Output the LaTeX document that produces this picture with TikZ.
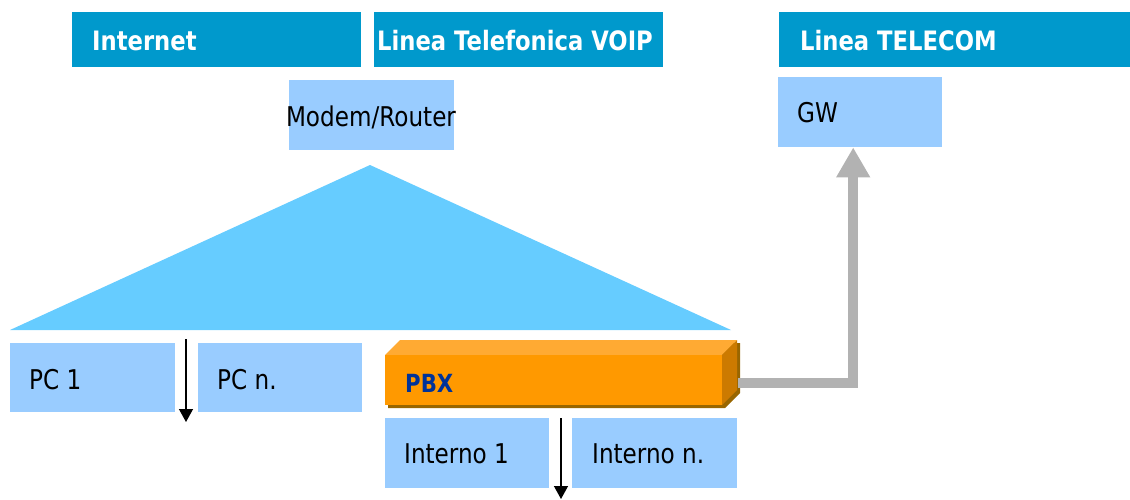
\documentclass[tikz,border=0pt]{standalone}
\usepackage{fontspec}
\setmainfont{DejaVu Sans}[FakeStretch=0.85]
\usetikzlibrary{arrows.meta}
\definecolor{hdr}{HTML}{0099CC}
\definecolor{lbox}{HTML}{99CCFF}
\definecolor{tri}{HTML}{66CCFF}
\definecolor{pbxf}{HTML}{FF9900}
\definecolor{pbxtop}{HTML}{FFAA33}
\definecolor{pbxr}{HTML}{CC7A00}
\definecolor{pbxs}{HTML}{996600}
\definecolor{conn}{HTML}{B2B2B2}
\definecolor{pbxtext}{HTML}{003399}
\begin{document}
\begin{tikzpicture}[x=1pt,y=-1pt,
  hbox/.style={fill=hdr, inner sep=0pt, anchor=north west, minimum height=55pt},
  lightbox/.style={fill=lbox, inner sep=0pt, anchor=north west},
  htext/.style={text=white, font=\bfseries\fontsize{26.7}{30}\selectfont, anchor=base west, inner sep=0pt},
  ntext/.style={text=black, font=\fontsize{27.2}{30}\selectfont, anchor=base west, inner sep=0pt},
  thin arrow/.style={line width=1.3pt, -{Triangle[length=13pt,width=14pt]}},
  grey arrow/.style={draw=conn, line width=10pt, -{Triangle[length=30pt,width=32pt]}}
]
\useasboundingbox (0,0) rectangle (1130,499);

% header bars
\node[hbox, minimum width=289pt] (inet) at (72,12) {};
\node[hbox, minimum width=289pt] (voip) at (374,12) {};
\node[hbox, minimum width=351pt] (tel) at (779,12) {};
\node[htext] (inettxt) at (92,50) {Internet};
\node[htext] (voiptxt) at (377,50) {Linea Telefonica VOIP};
\node[htext] (teltxt) at (800,50) {Linea TELECOM};

% modem / gw
\node[lightbox, minimum width=165pt, minimum height=70pt] (modem) at (289,80) {};
\node[ntext, anchor=base] (modemtxt) at (371,126) {Modem/Router};
\node[lightbox, minimum width=164pt, minimum height=70pt] (gw) at (778,77) {};
\node[ntext] (gwtxt) at (797,122) {GW};

% triangle
\fill[tri] (370,165) -- (731,330) -- (10,330) -- cycle;

% PCs
\node[lightbox, minimum width=165pt, minimum height=69pt] (pc1) at (10,343) {};
\node[lightbox, minimum width=164pt, minimum height=69pt] (pcn) at (198,343) {};
\node[ntext] (pc1txt) at (29,389) {PC 1};
\node[ntext] (pcntxt) at (217,389) {PC n.};
\coordinate (pcs) at (186,339);
\coordinate (pce) at (186,422);
\draw[thin arrow] (pcs) -- (pce);

% PBX
\fill[pbxs] (388,358) -- (403,343) -- (740,343) -- (740,393) -- (725,408) -- (388,408) -- cycle;
\fill[pbxtop] (385,355) -- (400,340) -- (737,340) -- (722,355) -- cycle;
\fill[pbxr] (722,355) -- (737,340) -- (737,390) -- (722,405) -- cycle;
\node[fill=pbxf, inner sep=0pt, anchor=north west, minimum width=337pt, minimum height=50pt] (pbx) at (385,355) {};
\node[text=pbxtext, font=\bfseries\fontsize{25}{28}\selectfont, anchor=base west, inner sep=0pt] (pbxlabel) at (405,392) {PBX};

% connector PBX -> GW
\coordinate (pbxout) at (738,383);
\draw[grey arrow] (pbxout) -| ([xshift=-7pt]gw.south);

% interni
\node[lightbox, minimum width=164pt, minimum height=70pt] (int1) at (385,418) {};
\node[lightbox, minimum width=165pt, minimum height=70pt] (intn) at (572,418) {};
\node[ntext] (int1txt) at (404,463) {Interno 1};
\node[ntext] (intntxt) at (592,463) {Interno n.};
\coordinate (ints) at (561,418);
\coordinate (inte) at (561,499);
\draw[thin arrow] (ints) -- (inte);
\end{tikzpicture}
\end{document}
